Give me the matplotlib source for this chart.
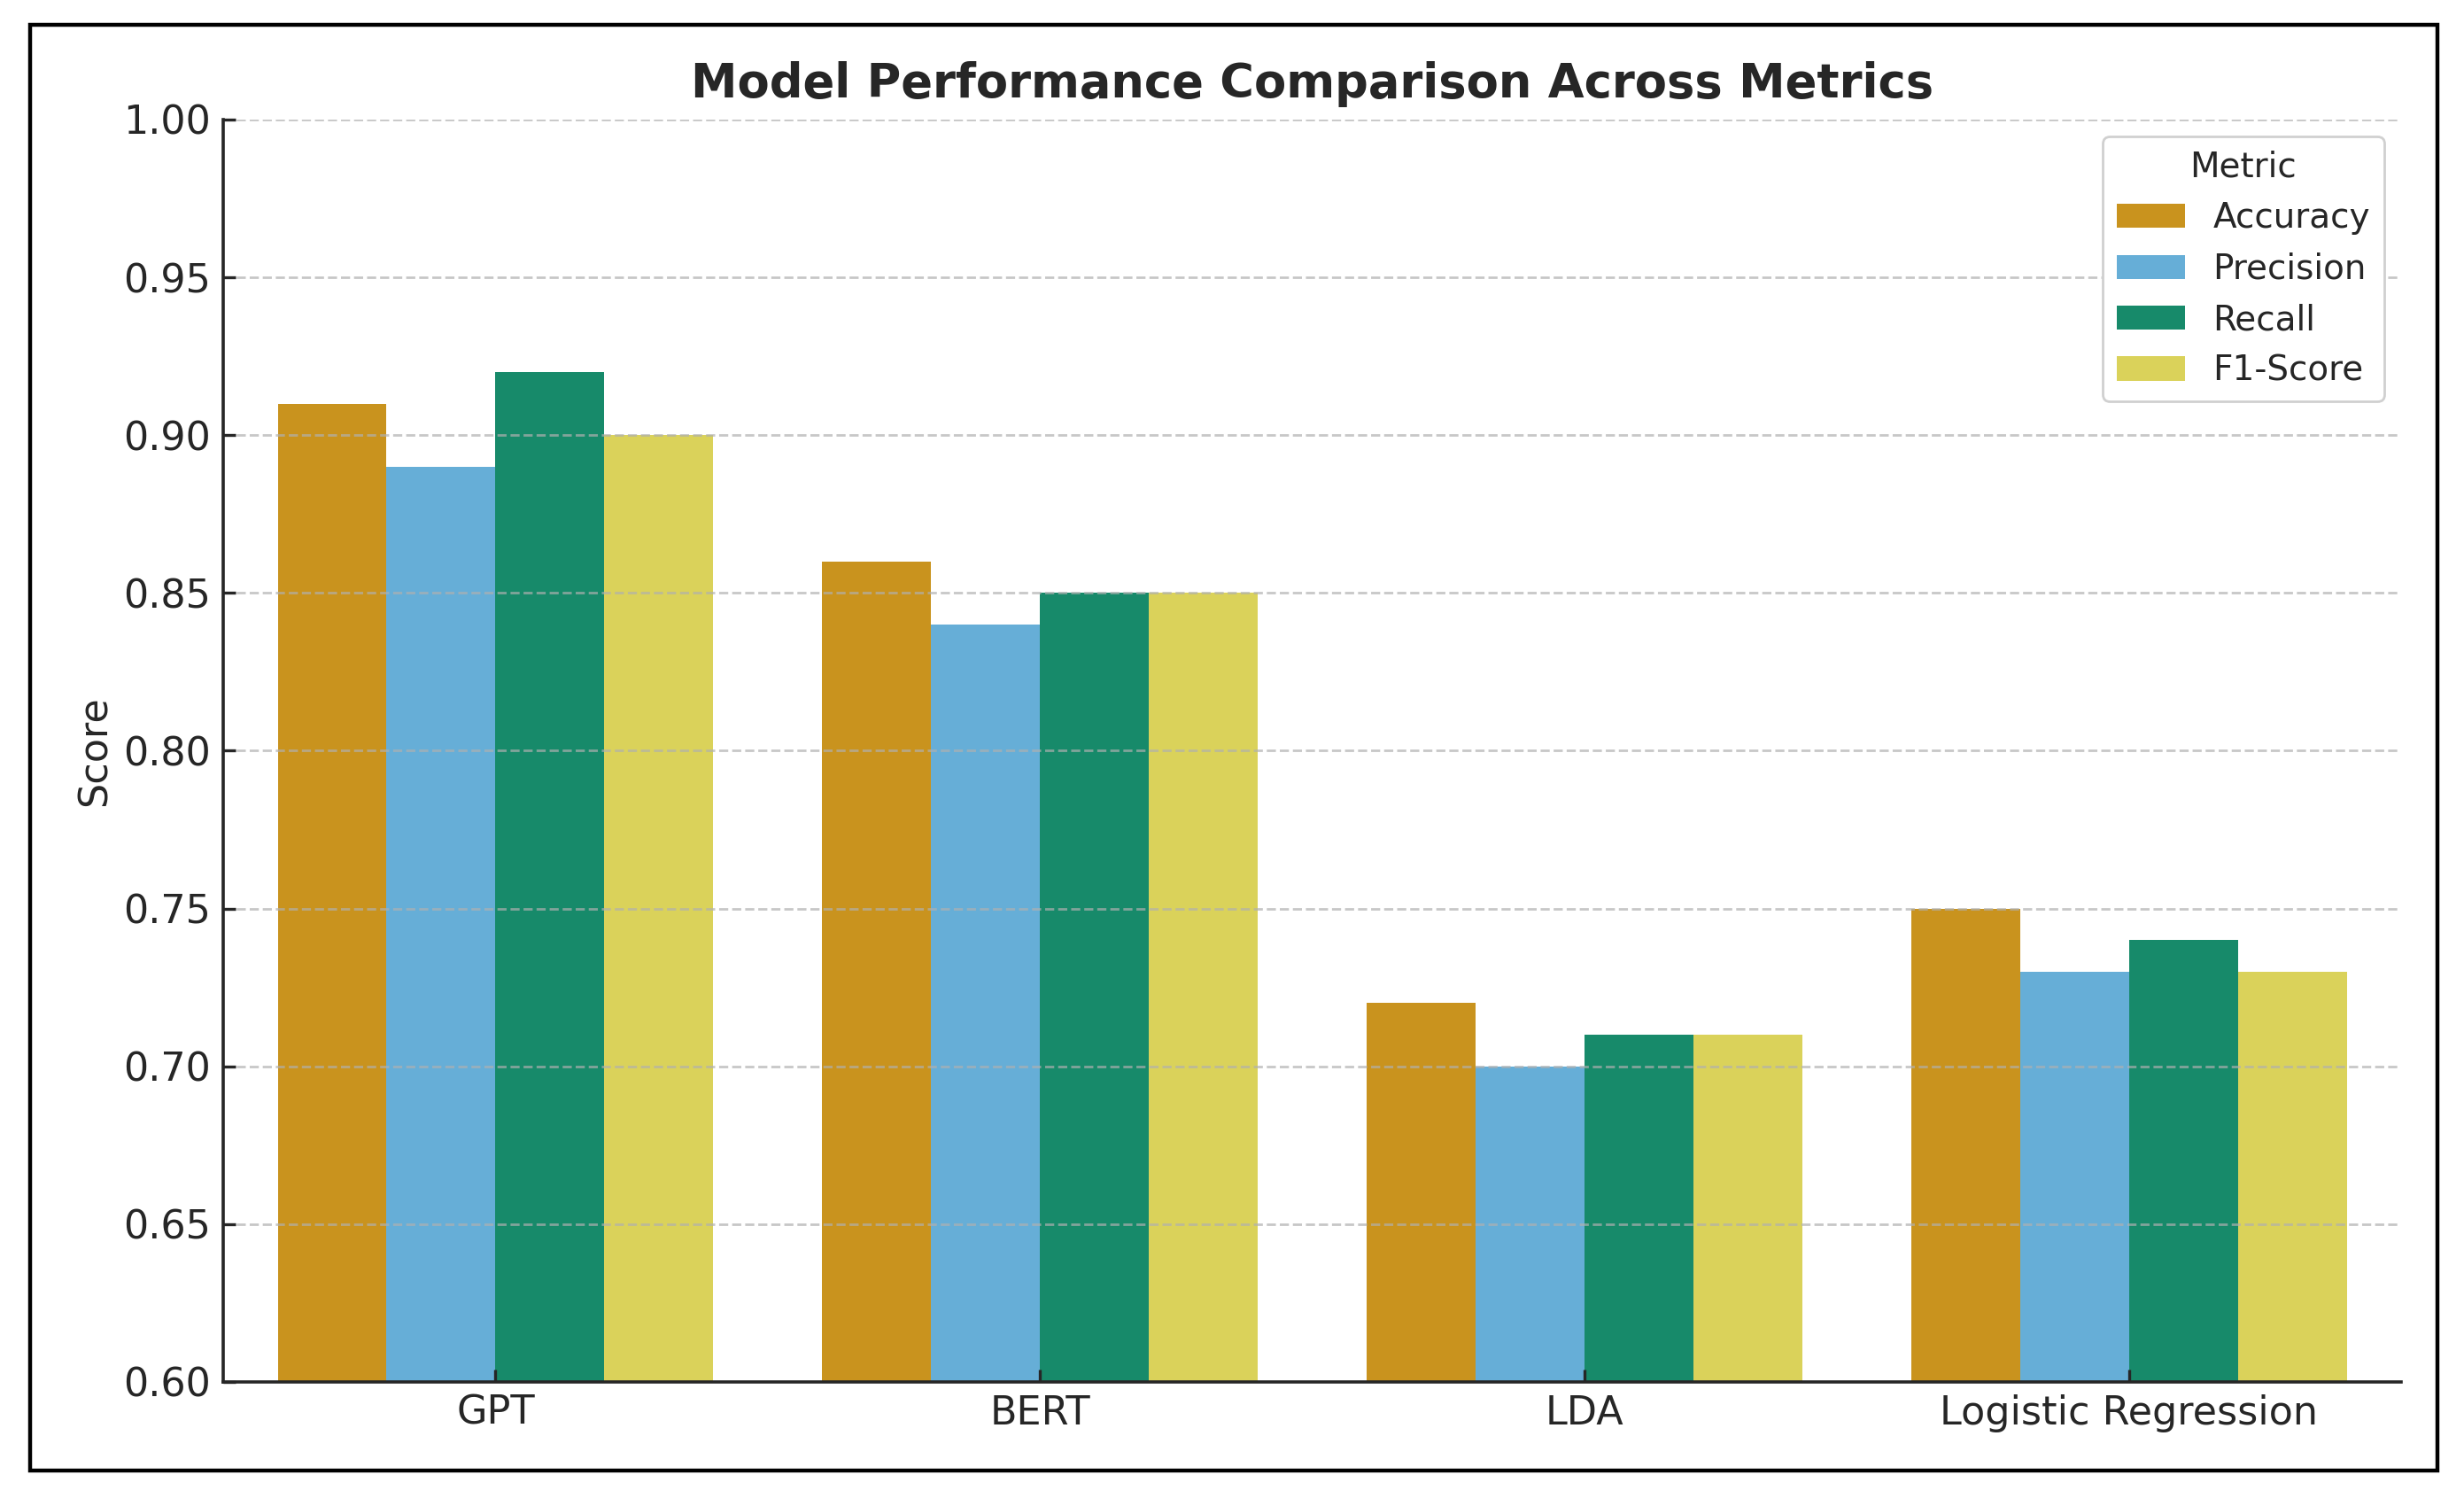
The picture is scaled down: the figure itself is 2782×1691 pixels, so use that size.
import matplotlib.pyplot as plt
import matplotlib.patches as mpatches
import numpy as np

models = ['GPT', 'BERT', 'LDA', 'Logistic Regression']
metrics = ['Accuracy', 'Precision', 'Recall', 'F1-Score']
accuracy = [0.91, 0.86, 0.72, 0.75]
precision = [0.89, 0.84, 0.70, 0.73]
recall = [0.92, 0.85, 0.71, 0.74]
f1_score = [0.90, 0.85, 0.71, 0.73]
colors = ['#C9931E', '#66AED7', '#178A6A', '#DAD25A']

series = [accuracy, precision, recall, f1_score]

fig = plt.figure(figsize=(13.91, 8.455), dpi=200)
ax = fig.add_axes([0.0906, 0.0775, 0.8839, 0.8427])

x = np.arange(len(models))
w = 0.2
for i, (vals, name) in enumerate(zip(series, metrics)):
    ax.bar(x + (i - 1.5) * w, vals, width=w, color=colors[i], label=name)

ax.set_xlim(-0.5, 3.5)
ax.set_ylim(0.6, 1.0)
ax.set_yticks(np.arange(0.60, 1.001, 0.05))
ax.set_xticks(x)
ax.set_xticklabels(models)
ax.tick_params(axis='both', labelsize=16, colors='#262626', direction='in',
               length=5, width=1.2, pad=5)
ax.yaxis.set_major_formatter(plt.FormatStrFormatter('%.2f'))

ax.grid(axis='y', linestyle='--', color='#b0b0b0', alpha=0.7, linewidth=1.0)
for s in ['top', 'right']:
    ax.spines[s].set_visible(False)
for s in ['left', 'bottom']:
    ax.spines[s].set_linewidth(1.3)
    ax.spines[s].set_color('#262626')

ax.set_ylabel('Score', fontsize=16, color='#262626')
ax.set_title('Model Performance Comparison Across Metrics', fontsize=19,
             fontweight='bold', color='#262626', pad=9)

leg = ax.legend(title='Metric', fontsize=14, title_fontsize=14, loc='upper right',
                framealpha=1, edgecolor='#d0d0d0')
for t in leg.get_texts():
    t.set_color('#262626')
leg.get_title().set_color('#262626')

# black frame around the whole picture
fig.patches.append(mpatches.Rectangle((34 / 2782, 1 - 1660 / 1691), (2752 - 34) / 2782,
                                      (1660 - 28) / 1691, transform=fig.transFigure,
                                      fill=False, edgecolor='black', linewidth=1.6))

fig.savefig('out.png', dpi=200)
